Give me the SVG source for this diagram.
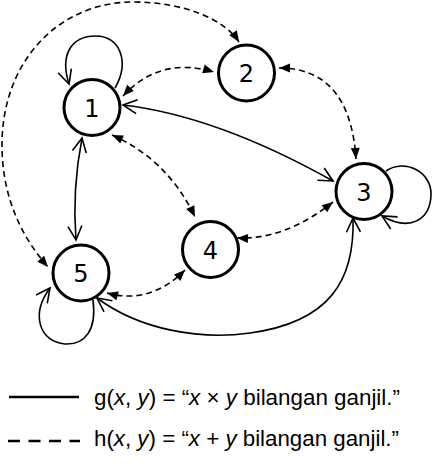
<svg xmlns="http://www.w3.org/2000/svg" width="433" height="471" viewBox="0 0 433 471">
<style>
.node circle{fill:#fff;stroke:#000;stroke-width:3}
.node text{font-family:"DejaVu Sans",sans-serif;font-size:24px;text-anchor:middle;fill:#000}
.e{fill:none;stroke:#000;stroke-width:1.6}
.s{marker-start:url(#o);marker-end:url(#o)}
.d{stroke-dasharray:6 4;marker-start:url(#f);marker-end:url(#f)}
.loop{marker-end:url(#o)}
.leg{font-family:"Liberation Sans",Arial,sans-serif;font-size:22px;fill:#000}
.it{font-style:italic}
</style>
<defs>
<marker id="o" viewBox="-16 -9 18 18" refX="0" refY="0" markerWidth="18" markerHeight="18" markerUnits="userSpaceOnUse" orient="auto-start-reverse">
<path d="M-14,-7 L0,0 L-14,7" fill="none" stroke="#000" stroke-width="1.6"/>
</marker>
<marker id="f" viewBox="-12 -6 13 12" refX="0" refY="0" markerWidth="13" markerHeight="12" markerUnits="userSpaceOnUse" orient="auto-start-reverse">
<path d="M-11,-4.5 L0,0 L-11,4.5 Z" fill="#000"/>
</marker>
</defs>

<g id="node1" class="node"><circle cx="92" cy="107.5" r="28"/><text x="92" y="116.5">1</text></g>
<g id="node2" class="node"><circle cx="246.5" cy="73" r="28"/><text x="246.5" y="82">2</text></g>
<g id="node3" class="node"><circle cx="364" cy="191.5" r="28"/><text x="364" y="200.5">3</text></g>
<g id="node4" class="node"><circle cx="210.5" cy="249.5" r="28"/><text x="210.5" y="258.5">4</text></g>
<g id="node5" class="node"><circle cx="81" cy="273" r="28"/><text x="81" y="282">5</text></g>

<g id="connectors">
<path class="e loop" d="M115,88 C130,62 120,36 96,36 C70,36 60,56 69,84"/>
<path class="e d" d="M123,96 Q160,56 214,72"/>
<path class="e d" d="M279,68 Q350,68 356,159"/>
<path class="e s" d="M123,105 Q217,116 333,181"/>
<path class="e d" d="M112,135 Q168,160 195,217"/>
<path class="e s" d="M82,138 Q72,190 76,240"/>
<path class="e d" d="M239,42 C225,20 185,2 133,2 C60,2 2,60 2,145 C2,195 20,235 48,267"/>
<path class="e loop" d="M386,171 C405,158 432,172 431,195 C430,220 410,232 382,216"/>
<path class="e d" d="M333,202 Q285,240 237,238"/>
<path class="e d" d="M185,270 Q150,305 107,293"/>
<path class="e s" d="M97,298 C140,330 200,340 250,333 C330,322 355,280 353,218"/>
<path class="e loop" d="M93,300 C97,330 85,345 65,344 C40,342 30,315 50,288"/>
</g>

<g id="legend">
<line x1="9" y1="397" x2="79" y2="397" stroke="#000" stroke-width="2.7"/>
<line x1="8" y1="441" x2="80" y2="441" stroke="#000" stroke-width="2.7" stroke-dasharray="12 8.5"/>
<text class="leg" x="94" y="405" textLength="306" lengthAdjust="spacingAndGlyphs">g(<tspan class="it">x</tspan>, <tspan class="it">y</tspan>) = “<tspan class="it">x</tspan> × <tspan class="it">y</tspan> bilangan ganjil.”</text>
<text class="leg" x="94" y="446" textLength="305" lengthAdjust="spacingAndGlyphs">h(<tspan class="it">x</tspan>, <tspan class="it">y</tspan>) = “<tspan class="it">x</tspan> + <tspan class="it">y</tspan> bilangan ganjil.”</text>
</g>
</svg>
